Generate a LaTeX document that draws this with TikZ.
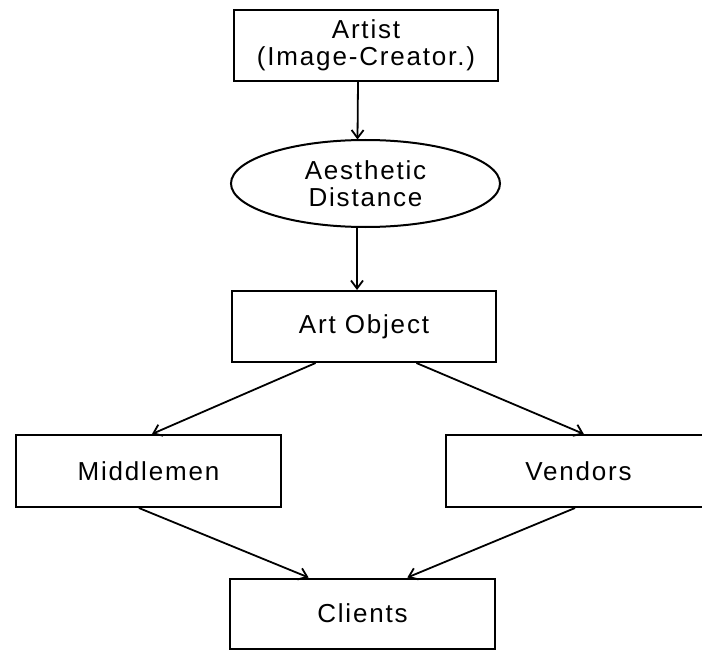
\documentclass[tikz,border=0pt]{standalone}
\usepackage{fontspec}
\setmainfont{Liberation Sans}[LetterSpace=7]
\usetikzlibrary{calc,arrows.meta,shapes.geometric}
\tikzset{
  boxnode/.style={draw, line width=2pt, rectangle, minimum width=264pt,
    minimum height=71pt, inner sep=0pt, align=center},
  ovalnode/.style={draw, line width=2pt, ellipse, minimum width=269pt,
    minimum height=87pt, inner sep=0pt, align=center},
  arr/.style={line width=1.8pt, -{Straight Barb[length=8pt,width=12pt,line width=1.8pt]}}
}
\begin{document}
\begin{tikzpicture}[x=1pt, y=-1pt, font=\fontsize{26}{27}\selectfont]
  \useasboundingbox (0,0) rectangle (702,650);
  \clip (0,0) rectangle (702,650);

  \node[boxnode] (artist) at (366,45.5) {Artist\\(Image-Creator.)};
  \node[ovalnode] (aes) at (365.5,183.5) {Aesthetic\\Distance};
  \node[boxnode] (obj) at (364,326.5) {Art Object};
  \node[boxnode, minimum width=265pt, minimum height=72pt] (mid) at (148.5,471) {Middlemen};
  \node[boxnode, minimum width=265pt, minimum height=72pt] (ven) at (578.5,471) {Vendors};
  \node[boxnode, minimum width=265pt, minimum height=70pt] (cli) at (362.5,613.5) {Clients};

  \draw[arr] ($(artist.south)+(-8,0)$) -- ($(aes.north)+(-8,0.5)$);
  \draw[arr] ($(aes.south)+(-8.5,-0.5)$) -- ($(obj.north)+(-7,0)$);
  \draw[arr] ($(obj.south west)!0.318!(obj.south east)$) -- ($(mid.north west)!0.513!(mid.north east)$);
  \draw[arr] ($(obj.south west)!0.697!(obj.south east)$) -- ($(ven.north west)!0.52!(ven.north east)$);
  \draw[arr] ($(mid.south west)!0.464!(mid.south east)$) -- ($(cli.north west)!0.298!(cli.north east)$);
  \draw[arr] ($(ven.south west)!0.487!(ven.south east)$) -- ($(cli.north west)!0.668!(cli.north east)$);
\end{tikzpicture}
\end{document}
